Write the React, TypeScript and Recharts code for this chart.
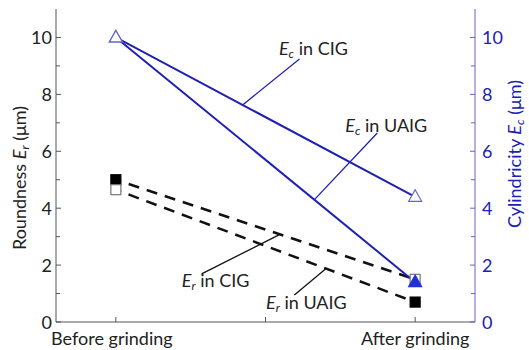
import { LineChart, Line, XAxis, YAxis, ReferenceLine, ReferenceDot } from 'recharts';

// stage positions on the x scale and their tick labels
const stageX = [1, 3];
const stageTicks = [1, 2, 3];
const stageLabels = ['Before grinding', '', 'After grinding'];
const stageLabelShift = [-4, 0, 0];

// cylindricity E_c (µm), right axis
const ecCig = [10, 4.4];
const ecUaig = [10, 1.4];

// roundness E_r (µm), left axis
const erCig = [5.0, 1.5];
const erUaig = [4.65, 0.7];

// marker fill per point: true = solid
const erCigSolid = [true, false];
const erUaigSolid = [false, true];
const ecCigSolid = [false, false];
const ecUaigSolid = [false, true];

const valueTicks = [0, 1, 2, 3, 4, 5, 6, 7, 8, 9, 10];

const data = stageX.map((x, i) => ({
  x,
  ecCig: ecCig[i],
  ecUaig: ecUaig[i],
  erCig: erCig[i],
  erUaig: erUaig[i],
}));

// callout text: position in data units + leader segment
const notes = [
  { sub: 'c', text: 'in CIG', x: 2.32, y: 9.63, axis: 'right', from: { x: 2.227, y: 9.24 }, to: { x: 1.847, y: 7.63 } },
  { sub: 'c', text: 'in UAIG', x: 2.807, y: 6.92, axis: 'right', from: { x: 2.747, y: 6.64 }, to: { x: 2.327, y: 4.3 } },
  { sub: 'r', text: 'in CIG', x: 1.667, y: 1.48, axis: 'left', from: { x: 1.573, y: 1.69 }, to: { x: 2.093, y: 3.07 } },
  { sub: 'r', text: 'in UAIG', x: 2.273, y: 0.7, axis: 'left', from: { x: 2.193, y: 0.95 }, to: { x: 2.407, y: 1.89 } },
];

const font = 'Lato, "Open Sans", sans-serif';
const frame = '#555';
const blue = '#2020b4';
const blueSoft = '#6464cc';
const ink = '#222';

const square = (cx: number, cy: number, solid: boolean, key: string) => (
  <rect key={key} x={cx - 5} y={cy - 5} width={10} height={10}
    fill={solid ? '#000' : '#fff'} stroke={solid ? '#000' : '#777'} strokeWidth={1.2} />
);

const triangle = (cx: number, cy: number, solid: boolean, key: string) => (
  <path key={key} d={`M${cx},${cy - 7} L${cx + 6.5},${cy + 4.5} L${cx - 6.5},${cy + 4.5} Z`}
    fill={solid ? '#1f30d8' : '#fff'} stroke={solid ? '#1f30d8' : blueSoft} strokeWidth={1.2} />
);

const dotWith = (shape: typeof square, solid: boolean[], name: string) => (p: any) =>
  shape(p.cx, p.cy, solid[p.index], `${name}-${p.index}`);

const LeftTick = (props: any) => {
  const { x, y, payload } = props;
  const major = payload.value % 2 === 0;
  return (
    <g>
      <line x1={x + 4} x2={x + 4 + (major ? 5 : 4)} y1={y} y2={y} stroke={frame} />
      {major && (
        <text x={x} y={y} textAnchor="end" dominantBaseline="central" fontSize={18} fill={ink} fontFamily={font}>
          {payload.value}
        </text>
      )}
    </g>
  );
};

const RightTick = (props: any) => {
  const { x, y, payload } = props;
  const major = payload.value % 2 === 0;
  return (
    <g>
      <line x1={x - 7} x2={x - 7 - (major ? 5 : 4)} y1={y} y2={y} stroke={blueSoft} />
      {major && (
        <text x={x} y={y} textAnchor="start" dominantBaseline="central" fontSize={18} fill={blue} fontFamily={font}>
          {payload.value}
        </text>
      )}
    </g>
  );
};

const BottomTick = (props: any) => {
  const { x, y, payload } = props;
  const i = stageTicks.indexOf(payload.value);
  return (
    <g>
      <line x1={x} x2={x} y1={y} y2={y - 5} stroke={frame} />
      <text x={x + stageLabelShift[i]} y={y + 16} textAnchor="middle" dominantBaseline="central"
        fontSize={18} fill={ink} fontFamily={font}>
        {stageLabels[i]}
      </text>
    </g>
  );
};

const TopTick = (props: any) => {
  const { x, y } = props;
  return <line x1={x} x2={x} y1={y} y2={y + 5} stroke={frame} />;
};

const NoteText = (sub: string, text: string) => (p: any) => (
  <text x={p.cx} y={p.cy} textAnchor="middle" dominantBaseline="central" fontSize={18} fill={ink} fontFamily={font}>
    <tspan fontStyle="italic">E</tspan>
    <tspan fontStyle="italic" fontSize={12} dy={5}>{sub}</tspan>
    <tspan dy={-5}>{' ' + text}</tspan>
  </text>
);

export default function App() {
  return (
    <div style={{ position: 'absolute', left: 0, top: 0, background: '#fff' }}>
      <LineChart width={529} height={350} data={data} margin={{ top: 9, right: 0, bottom: 0, left: 0 }}>
        <XAxis xAxisId="bottom" type="number" dataKey="x" domain={[0.6, 3.4]} ticks={stageTicks}
          height={28} stroke={frame} tickSize={0} tickMargin={0} tick={<BottomTick />} interval={0} />
        <XAxis xAxisId="top" orientation="top" type="number" dataKey="x" domain={[0.6, 3.4]} ticks={stageTicks}
          height={0} stroke={frame} tickSize={0} tickMargin={0} tick={<TopTick />} interval={0} />
        <YAxis yAxisId="left" domain={[0, 11]} ticks={valueTicks} width={56} stroke={frame}
          tickSize={0} tickMargin={4} tick={<LeftTick />} interval={0}
          label={{
            content: () => (
              <text transform="translate(19,178) rotate(-90)" textAnchor="middle" dominantBaseline="central"
                fontSize={18} fill={ink} fontFamily={font}>
                Roundness <tspan fontStyle="italic">E</tspan>
                <tspan fontStyle="italic" fontSize={12} dy={5}>r</tspan>
                <tspan dy={-5}> (μm)</tspan>
              </text>
            ),
          }} />
        <YAxis yAxisId="right" orientation="right" domain={[0, 11]} ticks={valueTicks} width={54} stroke={blueSoft}
          tickSize={0} tickMargin={7} tick={<RightTick />} interval={0}
          label={{
            content: () => (
              <text transform="translate(514,154) rotate(-90)" textAnchor="middle" dominantBaseline="central"
                fontSize={18} fill={blue} fontFamily={font}>
                Cylindricity <tspan fontStyle="italic">E</tspan>
                <tspan fontStyle="italic" fontSize={12} dy={5}>c</tspan>
                <tspan dy={-5}> (μm)</tspan>
              </text>
            ),
          }} />

        <Line xAxisId="bottom" yAxisId="left" dataKey="erCig" stroke="#111" strokeWidth={2.5}
          strokeDasharray="11 8" strokeDashoffset={5.5} dot={dotWith(square, erCigSolid, 'erCig')}
          activeDot={false} isAnimationActive={false} />
        <Line xAxisId="bottom" yAxisId="left" dataKey="erUaig" stroke="#111" strokeWidth={2.5}
          strokeDasharray="11 8" strokeDashoffset={5.5} dot={dotWith(square, erUaigSolid, 'erUaig')}
          activeDot={false} isAnimationActive={false} />
        <Line xAxisId="bottom" yAxisId="right" dataKey="ecCig" stroke={blue} strokeWidth={2}
          dot={dotWith(triangle, ecCigSolid, 'ecCig')} activeDot={false} isAnimationActive={false} />
        <Line xAxisId="bottom" yAxisId="right" dataKey="ecUaig" stroke={blue} strokeWidth={2}
          dot={dotWith(triangle, ecUaigSolid, 'ecUaig')} activeDot={false} isAnimationActive={false} />

        {notes.map((n, i) => (
          <ReferenceLine key={`lead-${i}`} xAxisId="bottom" yAxisId={n.axis}
            segment={[n.from, n.to]} stroke={n.axis === 'right' ? blue : '#111'} strokeWidth={1.3} />
        ))}
        {notes.map((n, i) => (
          <ReferenceDot key={`note-${i}`} xAxisId="bottom" yAxisId={n.axis} x={n.x} y={n.y} r={0}
            shape={NoteText(n.sub, n.text)} />
        ))}
      </LineChart>
    </div>
  );
}
